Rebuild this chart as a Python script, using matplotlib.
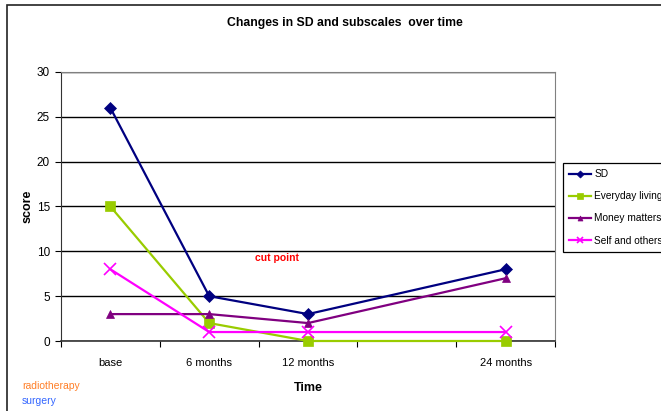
import matplotlib

matplotlib.use("Agg")
import matplotlib.pyplot as plt
from matplotlib.patches import Rectangle

plt.rcParams["font.family"] = ["Liberation Sans", "DejaVu Sans"]

# category slots; the 4th slot is empty in the original chart
categories = ["base", "6 months", "12 months", "", "24 months"]
time_points = [0, 1, 2, 4]

sd = [26, 5, 3, 8]
everyday_living = [15, 2, 0, 0]
money_matters = [3, 3, 2, 7]
self_and_others = [8, 1, 1, 1]

series = [
    ("SD", sd, "#000080", "D", 6),
    ("Everyday living", everyday_living, "#99CC00", "s", 7),
    ("Money matters", money_matters, "#800080", "^", 6),
    ("Self and others", self_and_others, "#FF00FF", "x", 8),
]

W, H = 661, 411
fig = plt.figure(figsize=(W / 100, H / 100), dpi=100)

# outer chart frame
fig.patches.append(Rectangle((7 / W, -0.1), 1.1, 1 - 5 / H + 0.1, transform=fig.transFigure,
                             fill=False, edgecolor="#222222", linewidth=1.2))

left, right, top, bottom = 61, 555, 72, 341
ax = fig.add_axes([left / W, 1 - bottom / H, (right - left) / W, (bottom - top) / H])

for label, values, color, marker, size in series:
    ax.plot(time_points, values, color=color, marker=marker, markersize=size,
            linewidth=1.6, label=label, clip_on=False, zorder=3,
            markeredgewidth=1.2 if marker == "x" else 0.5)

ax.set_xlim(-0.5, len(categories) - 0.5)
ax.set_ylim(0, 30)
ax.set_yticks(range(0, 31, 5))
ax.set_xticks(range(len(categories)))
ax.set_xticklabels(categories)
ax.set_xticks([i - 0.5 for i in range(len(categories) + 1)], minor=True)
ax.tick_params(axis="x", which="major", length=0, labelsize=8, pad=12)
ax.tick_params(axis="x", which="minor", length=4, direction="out", width=0.8)
ax.tick_params(axis="y", length=4, direction="out", labelsize=8.5, pad=4)
ax.grid(axis="y", color="black", linewidth=1.0)
ax.set_axisbelow(True)

for side in ["top", "right"]:
    ax.spines[side].set_color("#808080")
ax.spines["left"].set_color("#333333")
ax.spines["bottom"].set_color("#333333")
ax.spines["bottom"].set_linewidth(1.2)

ax.set_xlabel("Time", fontsize=9, fontweight="bold", labelpad=10)
ax.set_ylabel("score", fontsize=9, fontweight="bold", labelpad=2)
fig.text(345 / W, 1 - 23 / H, "Changes in SD and subscales  over time", ha="center", va="center",
         fontsize=8.8, fontweight="bold")

ax.text(1.69, 9.3, "cut point", color="red", fontsize=7.5, fontweight="bold", ha="center", va="center")

fig.text(22 / W, 1 - 386 / H, "radiotherapy", color="#FF7F27", fontsize=7.5, va="center")
fig.text(22 / W, 1 - 401 / H, "surgery", color="#3366FF", fontsize=7.5, va="center")

leg = fig.legend(loc="upper left", bbox_to_anchor=(563 / W, 1 - 163 / H), fontsize=7.3,
                 frameon=True, fancybox=False, edgecolor="black", framealpha=1,
                 handlelength=2.2, handletextpad=0.3, labelspacing=1.2, borderpad=0.6,
                 borderaxespad=0, markerscale=0.6)
leg.get_frame().set_linewidth(0.9)
leg._legend_box.sep = 0
leg._legend_handle_box.pad = 0
leg.borderpad = 0.6

fig.savefig("out.png", dpi=100)
